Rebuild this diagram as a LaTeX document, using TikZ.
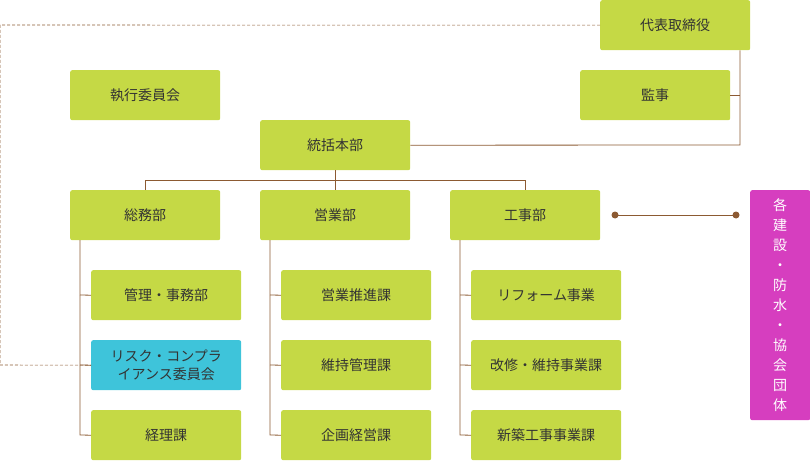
\documentclass[tikz,border=0pt]{standalone}
\usepackage{fontspec}
\setmainfont{Noto Sans CJK JP}
\begin{document}
\begin{tikzpicture}[x=1pt,y=-1pt,
 box/.style={draw=none,fill=gbox,rounded corners=2pt,minimum width=150pt,minimum height=50pt,anchor=north west,inner sep=0pt,text=tx,font=\fontsize{14}{17}\selectfont},
 ln/.style={draw=lc,line width=0.8pt}]
\definecolor{gbox}{HTML}{C5D945}
\definecolor{tx}{HTML}{333333}
\definecolor{lc}{HTML}{8C5A32}
\definecolor{pk}{HTML}{D63EBF}
\definecolor{cy}{HTML}{3EC4DA}
\useasboundingbox (0,0) rectangle (810,460);
\node[box] (ceo) at (600,0) {代表取締役};
\node[box] (kan) at (580,70) {監事};
\node[box] (exe) at (70,70) {執行委員会};
\node[box] (hq) at (260,120) {統括本部};
\node[box] (soumu) at (70,190) {総務部};
\node[box] (eigyo) at (260,190) {営業部};
\node[box] (kouji) at (450,190) {工事部};
\node[box] (s1) at (91,270) {管理・事務部};
\node[box,fill=cy,align=center,font=\fontsize{14}{18}\selectfont] (s2) at (91,340) {リスク・コンプラ\\イアンス委員会};
\node[box] (s3) at (91,410) {経理課};
\node[box] (e1) at (281,270) {営業推進課};
\node[box] (e2) at (281,340) {維持管理課};
\node[box] (e3) at (281,410) {企画経営課};
\node[box] (k1) at (471,270) {リフォーム事業};
\node[box] (k2) at (471,340) {改修・維持事業課};
\node[box] (k3) at (471,410) {新築工事事業課};
\node[fill=pk,rounded corners=2pt,anchor=north west,minimum width=60pt,minimum height=230pt,inner sep=0pt,text=white,align=center,font=\fontsize{14}{20}\selectfont] (pink) at (750,190) {各\\建\\設\\・\\防\\水\\・\\協\\会\\団\\体};
\coordinate (c1) at (740,145);
\draw[ln] (ceo.south -| c1) -- (c1) -- (hq.east);
\draw[ln] (kan.east) -- (kan.east -| c1);
\draw[ln,dashed,dash pattern=on 3pt off 2pt,line width=0.6pt] (ceo.west) -- (0,25) -- (0,365) -- (s2.west);
\draw[ln] (hq.south) -- ++(0,10) coordinate (m);
\draw[ln] (soumu.north) |- (m) -| (kouji.north);
\draw[ln] (m) -- (eigyo.north);
\foreach \p/\a/\b/\c/\x in {soumu/s1/s2/s3/80, eigyo/e1/e2/e3/270, kouji/k1/k2/k3/460}{
 \draw[ln] (\x,240) -- (\x,435) -- (\c.west);
 \draw[ln] (\x,295) -- (\a.west);
 \draw[ln] (\x,365) -- (\b.west);
}
\coordinate (d1) at (615,215);
\coordinate (d2) at (736,215);
\draw[ln] (d1) -- (d2);
\fill[lc] (d1) circle (3.5pt) (d2) circle (3.5pt);
\end{tikzpicture}
\end{document}
